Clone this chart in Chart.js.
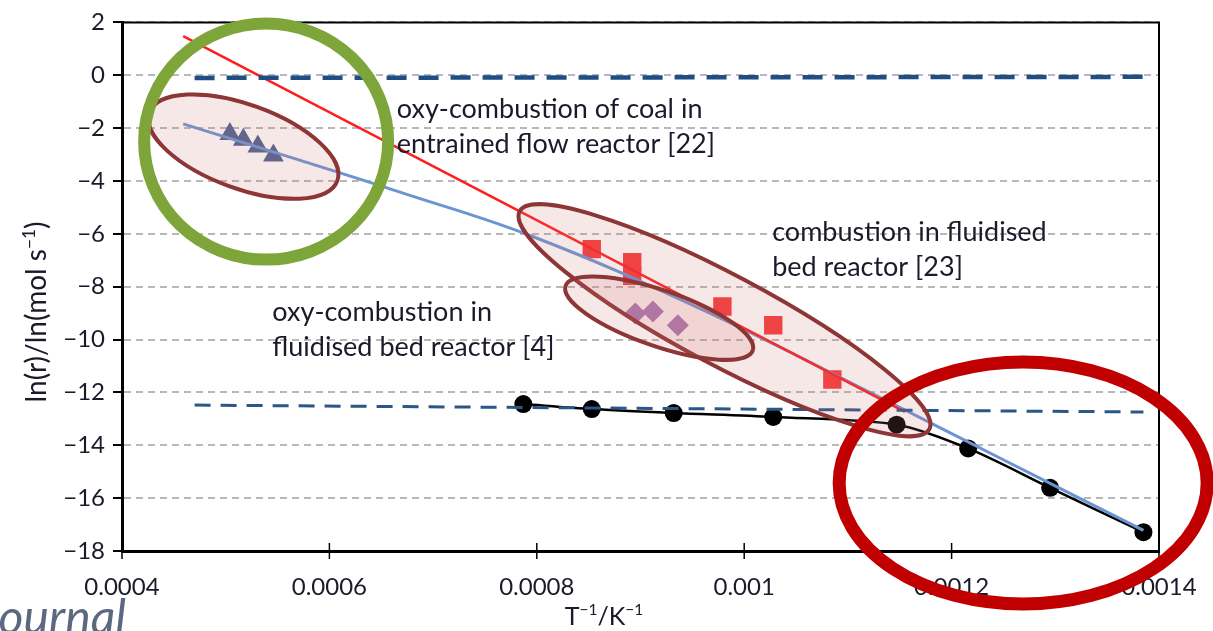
<!DOCTYPE html>
<html>
<head>
<meta charset="utf-8">
<script src="https://cdn.jsdelivr.net/npm/chart.js@4.4.1/dist/chart.umd.min.js"></script>
<style>
  html, body { margin: 0; padding: 0; background: #fff; }
  #wrap { width: 1213px; height: 631px; position: relative; }
</style>
</head>
<body>
<div id="wrap"><canvas id="arrhenius"></canvas></div>
<script>
// x = 1/T (K^-1), y = ln(r)
const triX = [0.000504, 0.000517, 0.000531, 0.000546];
const triY = [-2.22, -2.44, -2.70, -3.04];

const sqX = [0.000853, 0.000892, 0.000892, 0.000979, 0.001028, 0.001085];
const sqY = [-6.58, -7.07, -7.59, -8.75, -9.46, -11.51];

const diaX = [0.000895, 0.000912, 0.000936];
const diaY = [-9.01, -8.94, -9.46];

const dotX = [0.000787, 0.000853, 0.000932, 0.001028, 0.001147, 0.001216, 0.001295, 0.001385];
const dotY = [-12.44, -12.63, -12.78, -12.93, -13.22, -14.12, -15.61, -17.29];

const fitX = [0.000459, 0.000572, 0.000668, 0.000796, 0.000957, 0.001134, 0.001247, 0.001385];
const fitY = [-1.84, -3.22, -4.42, -6.10, -8.82, -12.25, -14.49, -17.22];

const redX = [0.000459, 0.001155];
const redY = [1.48, -12.74];

const upperX = [0.000470, 0.001385];
const upperY = [-0.10, -0.06];
const lowerX = [0.000470, 0.001385];
const lowerY = [-12.48, -12.74];

const xTicks = [0.0004, 0.0006, 0.0008, 0.001, 0.0012, 0.0014];
const yTicks = [2, 0, -2, -4, -6, -8, -10, -12, -14, -16, -18];

const notes = [
  { x: 0.000665, y: -1.62, lines: ['oxy-combustion of coal in', 'entrained flow reactor [22]'] },
  { x: 0.001027, y: -6.28, lines: ['combustion in fluidised', 'bed reactor [23]'] },
  { x: 0.000545, y: -9.31, lines: ['oxy-combustion in', 'fluidised bed reactor [4]'] }
];

// shaded groups: centre in data units, radii in px, tilt in degrees
const groups = [
  { x: 0.000517, y: -2.70, a: 100, b: 42, rot: 20 },
  { x: 0.000981, y: -9.27, a: 232, b: 45, rot: 28 },
  { x: 0.000918, y: -9.19, a: 99, b: 28, rot: 19 }
];
const rings = [
  { x: 0.000539, y: -2.51, a: 122, b: 118, color: '#7ea53a', width: 12 },
  { x: 0.001269, y: -15.43, a: 184, b: 121, color: '#c00000', width: 13 }
];

const FONT = 'Lato, "Open Sans", sans-serif';
const TEXT = '#1a1b2a';

function pts(xs, ys) { return xs.map((v, i) => ({ x: v, y: ys[i] })); }

function richWidth(ctx, parts, size) {
  // parts: [text, isSuperscript]
  let w = 0;
  parts.forEach(p => {
    ctx.font = (p[1] ? size * 0.62 : size) + 'px ' + FONT;
    w += ctx.measureText(p[0]).width;
  });
  return w;
}
function drawRich(ctx, parts, x, y, size) {
  let cx = x;
  parts.forEach(p => {
    ctx.font = (p[1] ? size * 0.62 : size) + 'px ' + FONT;
    ctx.fillText(p[0], cx, p[1] ? y - size * 0.4 : y);
    cx += ctx.measureText(p[0]).width;
  });
}

const overlay = {
  id: 'overlay',
  afterDatasetsDraw(chart) {
    const { ctx, chartArea: ca, scales: { x, y } } = chart;
    ctx.save();

    // top and right frame
    ctx.strokeStyle = '#000';
    ctx.lineWidth = 2;
    ctx.beginPath();
    ctx.moveTo(ca.left, ca.top);
    ctx.lineTo(ca.right, ca.top);
    ctx.lineTo(ca.right, ca.bottom);
    ctx.stroke();

    // x tick marks crossing the axis
    ctx.lineWidth = 1.5;
    xTicks.forEach(t => {
      const px = x.getPixelForValue(t);
      ctx.beginPath();
      ctx.moveTo(px, ca.bottom - 8);
      ctx.lineTo(px, ca.bottom + 8);
      ctx.stroke();
    });

    // shaded groups
    groups.forEach(g => {
      ctx.beginPath();
      ctx.ellipse(x.getPixelForValue(g.x), y.getPixelForValue(g.y), g.a, g.b, g.rot * Math.PI / 180, 0, Math.PI * 2);
      ctx.fillStyle = 'rgba(210, 120, 120, 0.17)';
      ctx.fill();
      ctx.lineWidth = 4;
      ctx.strokeStyle = '#8e3535';
      ctx.stroke();
    });

    // text notes
    ctx.fillStyle = TEXT;
    ctx.font = '27px ' + FONT;
    ctx.textBaseline = 'alphabetic';
    ctx.textAlign = 'left';
    notes.forEach(n => {
      const px = x.getPixelForValue(n.x);
      const py = y.getPixelForValue(n.y);
      n.lines.forEach((l, i) => ctx.fillText(l, px, py + i * 35));
    });

    // highlight rings
    rings.forEach(r => {
      ctx.beginPath();
      ctx.ellipse(x.getPixelForValue(r.x), y.getPixelForValue(r.y), r.a, r.b, 0, 0, Math.PI * 2);
      ctx.lineWidth = r.width;
      ctx.strokeStyle = r.color;
      ctx.stroke();
    });

    // axis titles
    const xt = [['T', false], ['\u22121', true], ['/K', false], ['\u22121', true]];
    const xw = richWidth(ctx, xt, 25);
    drawRich(ctx, xt, 604 - xw / 2, 625, 25);

    const yt = [['ln(r)/ln(mol s', false], ['\u22121', true], [')', false]];
    const yw = richWidth(ctx, yt, 28);
    ctx.save();
    ctx.translate(46, 312);
    ctx.rotate(-Math.PI / 2);
    drawRich(ctx, yt, -yw / 2, 0, 28);
    ctx.restore();

    // slide text cut off at the corner
    ctx.font = 'italic 48px ' + FONT;
    ctx.fillStyle = '#5a6980';
    ctx.textAlign = 'right';
    ctx.fillText('ournal', 126, 634);

    ctx.restore();
  }
};

const fmtY = v => (v < 0 ? '\u2212' + Math.abs(v) : String(v));
const fmtX = v => String(Number(v.toFixed(4)));

new Chart(document.getElementById('arrhenius'), {
  type: 'scatter',
  data: {
    datasets: [
      { data: pts(upperX, upperY), showLine: true, pointRadius: 0, borderColor: '#1f4e85', borderWidth: 4.5, borderDash: [20, 12] },
      { data: pts(lowerX, lowerY), showLine: true, pointRadius: 0, borderColor: '#2a5688', borderWidth: 3, borderDash: [16, 10] },
      { data: pts(redX, redY), showLine: true, pointRadius: 0, borderColor: '#ff1e1e', borderWidth: 2.5 },
      { data: pts(fitX, fitY), showLine: true, pointRadius: 0, borderColor: '#6a95d2', borderWidth: 3, tension: 0.4 },
      { data: pts(dotX, dotY), showLine: true, tension: 0.3, borderColor: '#000', borderWidth: 2.5,
        pointRadius: 9, pointBackgroundColor: '#000', pointBorderWidth: 0 },
      { data: pts(triX, triY), pointStyle: 'triangle', pointRadius: 12, backgroundColor: '#4e6290', borderWidth: 0 },
      { data: pts(sqX, sqY), pointStyle: 'rect', pointRadius: 13, backgroundColor: '#f43a3a', borderWidth: 0 },
      { data: pts(diaX, diaY), pointStyle: 'rectRot', pointRadius: 11, backgroundColor: '#a676b9', borderWidth: 0 }
    ]
  },
  options: {
    animation: false,
    responsive: true,
    maintainAspectRatio: false,
    layout: { padding: { left: 0, top: 15, right: 54, bottom: 0 } },
    plugins: { legend: { display: false }, tooltip: { enabled: false } },
    scales: {
      x: {
        type: 'linear',
        min: 0.0004,
        max: 0.0014,
        afterBuildTicks: s => { s.ticks = xTicks.map(v => ({ value: v })); },
        afterFit: s => { s.height = 80; },
        grid: { display: false },
        border: { color: '#000', width: 3 },
        ticks: { callback: fmtX, color: TEXT, padding: 14, maxRotation: 0, font: { family: FONT, size: 24 } }
      },
      y: {
        min: -18,
        max: 2,
        afterBuildTicks: s => { s.ticks = yTicks.map(v => ({ value: v })); },
        afterFit: s => { s.width = 122; },
        grid: { color: '#b8b8b8', lineWidth: 2, tickColor: '#000', tickLength: 9, tickWidth: 2 },
        border: { color: '#000', width: 3, dash: [7, 5] },
        ticks: { callback: fmtY, color: TEXT, padding: 8, font: { family: FONT, size: 24 } }
      }
    }
  },
  plugins: [overlay]
});
</script>
</body>
</html>
